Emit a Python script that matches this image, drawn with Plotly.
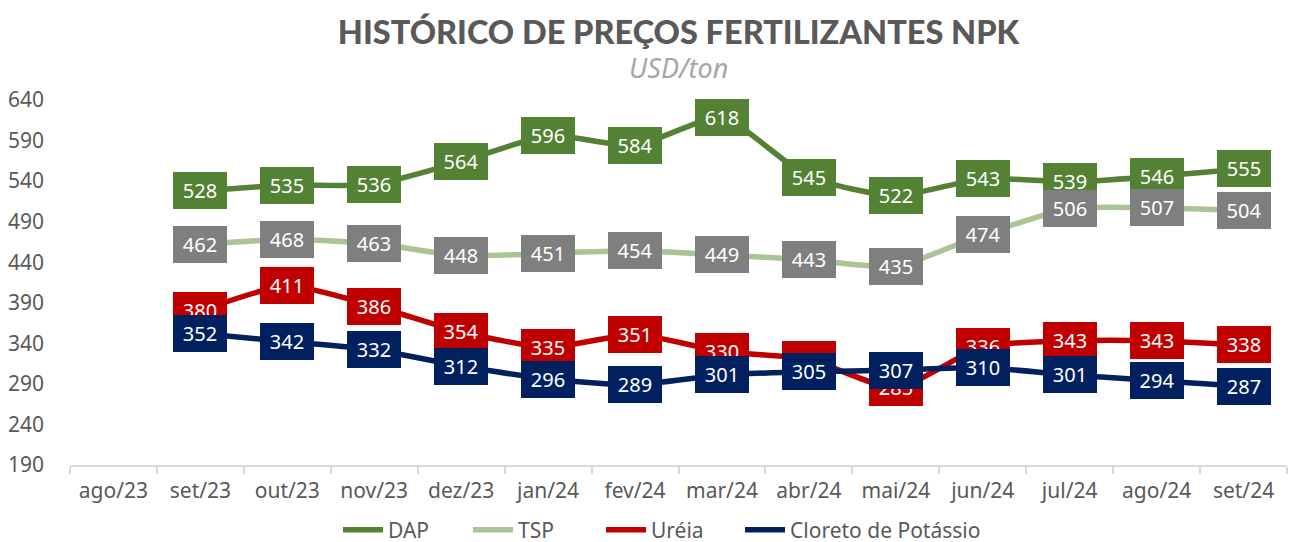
import plotly.graph_objects as go

months = ['ago/23', 'set/23', 'out/23', 'nov/23', 'dez/23', 'jan/24', 'fev/24',
          'mar/24', 'abr/24', 'mai/24', 'jun/24', 'jul/24', 'ago/24', 'set/24']

dap = [None, 528, 535, 536, 564, 596, 584, 618, 545, 522, 543, 539, 546, 555]
tsp = [None, 462, 468, 463, 448, 451, 454, 449, 443, 435, 474, 506, 507, 504]
ureia = [None, 380, 411, 386, 354, 335, 351, 330, 320, 285, 336, 343, 343, 338]
cloreto = [None, 352, 342, 332, 312, 296, 289, 301, 305, 307, 310, 301, 294, 287]

series = [
    ('DAP', dap, '#548235', '#548235'),
    ('TSP', tsp, '#A9C495', '#7F7F7F'),
    ('Uréia', ureia, '#C00000', '#C00000'),
    ('Cloreto de Potássio', cloreto, '#002060', '#002060'),
]

FONT = 'Noto Sans'
W, H = 1292, 542
ML, MR, MT, MB = 70, 5, 100, 77
PH = H - MT - MB
PW = W - ML - MR

# legend entry left edges (pixels), one legend box per series
legend_px = [338, 468, 601, 740]
legend_names = ['legend', 'legend2', 'legend3', 'legend4']

fig = go.Figure()
annotations = []
for (name, vals, lcolor, bcolor), lg in zip(series, legend_names):
    fig.add_trace(go.Scatter(
        x=months, y=vals, name=name, mode='lines', legend=lg,
        line=dict(color=lcolor, width=5.5, shape='spline', smoothing=0.6),
        connectgaps=False,
    ))
    for m, v in zip(months, vals):
        if v is None:
            continue
        annotations.append(dict(
            x=m, y=v, xref='x', yref='y', text=str(v), showarrow=False,
            font=dict(family=FONT, size=20, color='white'),
            bgcolor=bcolor, borderpad=6, borderwidth=0,
            width=42, height=25, xanchor='center', yanchor='middle',
        ))

annotations.append(dict(
    text='<i>USD/ton</i>', x=0.5, y=1 + (MT - 68) / PH, xref='paper', yref='paper',
    yanchor='middle', showarrow=False, font=dict(family=FONT, size=27, color='#A6A6A6'),
))

legend_common = dict(orientation='h', xanchor='left', yanchor='middle',
                     y=-(530 - (H - MB)) / PH,
                     font=dict(family=FONT, size=21, color='#595959'),
                     itemwidth=40, bgcolor='rgba(0,0,0,0)')
legends = {lg: dict(legend_common, x=(px - ML) / PW) for lg, px in zip(legend_names, legend_px)}

fig.update_layout(
    width=W, height=H,
    margin=dict(l=ML, r=MR, t=MT, b=MB, autoexpand=False),
    plot_bgcolor='white', paper_bgcolor='white',
    title=dict(text='HISTÓRICO DE PREÇOS FERTILIZANTES NPK',
               x=0.5, xref='paper', xanchor='center', y=1 - 33 / H, yanchor='middle',
               font=dict(family='Lato', size=32.5, color='#595959', weight=900)),
    font=dict(family=FONT, color='#595959', size=20),
    showlegend=True,
    annotations=annotations,
    **legends,
)

fig.update_xaxes(
    type='category', categoryorder='array', categoryarray=months,
    range=[-0.5, 13.5], showgrid=False, showline=True, linecolor='#D9D9D9', linewidth=2,
    ticks='outside', tickson='boundaries', ticklen=7, tickcolor='#D9D9D9', tickwidth=2,
    tickfont=dict(family=FONT, size=21, color='#595959'), ticklabelstandoff=6,
    fixedrange=True,
)
fig.update_yaxes(
    range=[190, 640], dtick=50, tick0=190, showgrid=False, showline=False, zeroline=False,
    ticks='', tickfont=dict(family=FONT, size=21, color='#595959'), ticklabelstandoff=25,
)

fig.write_html('out.html', config={'displayModeBar': False},
               post_script="document.body.style.margin='0px';")
